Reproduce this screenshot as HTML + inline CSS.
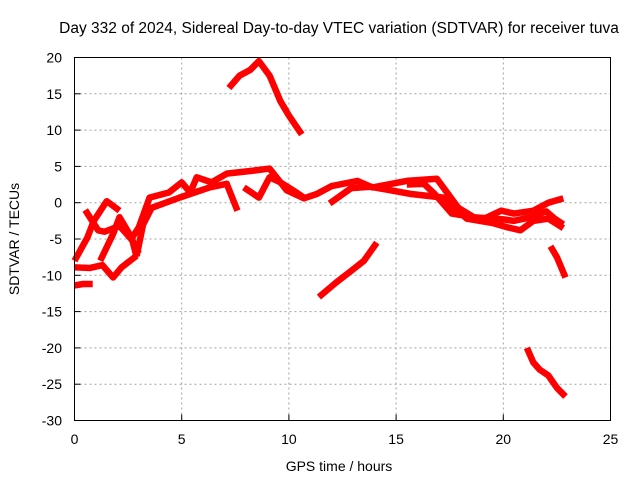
<!DOCTYPE html>
<html><head><meta charset="utf-8"><style>
body{margin:0;background:#fff}
svg{display:block;font-family:"Liberation Sans",sans-serif}
</style></head><body>
<svg id="chart" width="640" height="480" viewBox="0 0 640 480">
<text x="339" y="33" font-size="15.5" text-anchor="middle">Day 332 of 2024, Sidereal Day-to-day VTEC variation (SDTVAR) for receiver tuva</text>
<g id="grid"></g>
<g id="series"></g>
<rect x="74.5" y="57.5" width="536" height="363" fill="none" stroke="#000"/>
<g id="ticks"></g>
<text x="339" y="471" font-size="14" text-anchor="middle">GPS time / hours</text>
<text transform="translate(19,239) rotate(-90)" font-size="14" text-anchor="middle">SDTVAR / TECUs</text>
</svg>
<script>
const xTicks=[0,5,10,15,20,25];
const yTicks=[20,15,10,5,0,-5,-10,-15,-20,-25,-30];
const trackTop=[[7.2,15.8],[7.7,17.5],[8.2,18.3],[8.6,19.5],[9.1,17.5],[9.6,14],[10.0,12],[10.6,9.4]];
const trackMid=[[11.4,-13],[12.2,-11],[12.9,-9.4],[13.5,-8],[14.1,-5.5]];
const trackR1=[[22.2,-6],[22.5,-7.5],[22.9,-10.3]];
const trackR2=[[21.1,-20],[21.4,-22],[21.7,-23],[22.1,-23.8],[22.5,-25.5],[22.9,-26.7]];
const trackL=[[0,-11.4],[0.4,-11.2],[0.85,-11.2]];
const trackA=[[0,-8],[0.6,-4.8],[0.9,-2.5],[1.5,0.2],[1.6,0],[2.1,-1.1]];
const trackB=[[0,-8.9],[0.7,-9],[1.3,-8.6],[1.8,-10.3],[2.2,-8.9],[2.9,-7.3]];
const trackC=[[0.5,-1],[1.1,-3.8],[1.4,-4],[2.1,-3.2],[2.7,-5.2],[2.9,-7.5]];
const trackC2=[[1.2,-8],[1.8,-4.3],[2.1,-2],[2.5,-4],[3.0,-7]];
const trackD=[[2.6,-5.2],[3.0,-3.4],[3.5,0.7],[4.4,1.4],[5.0,2.8],[5.4,1.4],[5.7,3.5],[6.4,2.8],[7.1,4],[8.3,4.4],[9.1,4.7],[9.9,1.7],[10.7,0.6],[11.3,1.2],[12.0,2.3],[13.2,3],[13.9,2.1],[15.5,3],[16.9,3.3],[17.9,-0.7],[18.9,-2.5],[19.9,-1.1],[20.5,-1.5],[21.4,-1.1],[22.1,0],[22.8,0.6]];
const trackE=[[2.9,-7.3],[3.2,-3],[3.6,-0.7],[4.9,0.7],[6.3,2.1],[7.1,2.6],[7.6,-1.1]];
const trackF=[[7.9,2.1],[8.6,0.7],[9.1,3.5],[9.6,2.8],[10.3,1.5],[10.8,0.5]];
const trackG=[[11.9,-0.1],[12.9,2],[13.8,2.2],[15.7,1.2],[17.2,0.7],[18.3,-2.2],[19.5,-2.8],[20.2,-3.4],[20.8,-3.8],[21.4,-2.5],[22.1,-2.2],[22.8,-3.5]];
const trackH=[[15.5,2.5],[16.3,2.6],[16.8,1.2],[17.6,-1.5],[18.6,-2.0],[20.0,-2.3],[20.5,-2.5],[21.3,-2.0],[22.0,-1.2],[22.4,-2.2],[22.8,-3.0]];
const tracks=[trackTop,trackMid,trackR1,trackR2,trackL,trackA,trackB,trackC,trackC2,trackD,trackE,trackF,trackG,trackH];
const X0=74.5,X1=610.5,Y0=420.5,Y1=57.5;
const xs=v=>X0+(v-0)/(25-0)*(X1-X0);
const ys=v=>Y0-(v+30)/(50)*(Y0-Y1);
const NS="http://www.w3.org/2000/svg";
const grid=document.getElementById('grid'),ticks=document.getElementById('ticks'),ser=document.getElementById('series');
function mk(t,a,p){const e=document.createElementNS(NS,t);for(const k in a)e.setAttribute(k,a[k]);p.appendChild(e);return e;}
xTicks.forEach(v=>{const x=xs(v);
 if(v>0&&v<25){const g=mk('line',{x1:x,x2:x,y1:Y1,y2:Y0,stroke:'#a0a0a0','stroke-dasharray':'2,3'},grid);
 
 }
 const t=mk('line',{x1:x,x2:x,y1:Y0,y2:Y0-6,stroke:'#000'},ticks);
 
 
 const l=mk('text',{x:x,y:444,'font-size':14,'text-anchor':'middle'},ticks);l.textContent=v;
 
 
});
yTicks.forEach(v=>{const y=ys(v);
 if(v>-30&&v<20){const g=mk('line',{x1:X0,x2:X1,y1:y,y2:y,stroke:'#a0a0a0','stroke-dasharray':'2,3'},grid);
 
 }
 const t=mk('line',{x1:X0,x2:X0+6,y1:y,y2:y,stroke:'#000'},ticks);
 
 
 const l=mk('text',{x:62,y:y+5,'font-size':14,'text-anchor':'end'},ticks);l.textContent=v;
 
 
});
tracks.forEach(tr=>{
 const p=mk('polyline',{points:tr.map(d=>xs(d[0])+','+ys(d[1])).join(' '),fill:'none',stroke:'#ff0000','stroke-width':6.5,'stroke-linejoin':'round'},ser);
 
 
});
</script>
</body></html>
